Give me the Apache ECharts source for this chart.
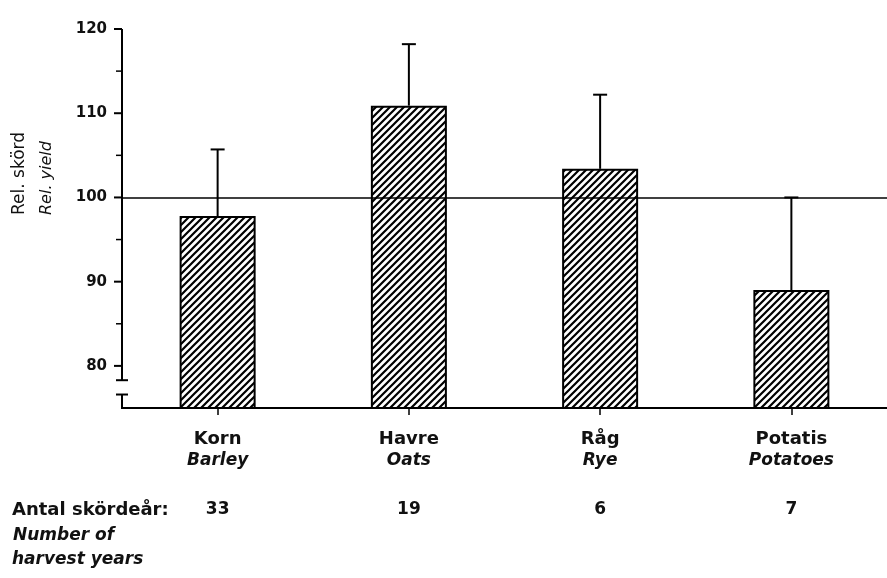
<!DOCTYPE html>
<html>
<head>
<meta charset="utf-8">
<script src="https://cdn.jsdelivr.net/npm/echarts@6/dist/echarts.min.js"></script>
<style>
  html, body { margin: 0; padding: 0; background: #fff; }
  #chart { width: 887px; height: 578px; }
</style>
</head>
<body>
<div id="chart"></div>
<script>
// ---- data ----
const categories = ['Korn', 'Havre', 'Råg', 'Potatis'];
const categoriesEn = ['Barley', 'Oats', 'Rye', 'Potatoes'];
const relYield = [97.8, 110.9, 103.4, 89.0];
const upperError = [105.7, 118.2, 112.2, 100.0];
const harvestYears = [33, 19, 6, 7];
const majorTicks = [80, 90, 100, 110, 120];
const minorTicks = [85, 95, 105, 115];
const axisBreak = [76.6, 78.3];
const referenceLevel = 100;

// ---- hatch pattern ----
function makeHatch() {
  const s = 7;
  const c = document.createElement('canvas');
  c.width = s; c.height = s;
  const g = c.getContext('2d');
  g.fillStyle = '#fff';
  g.fillRect(0, 0, s, s);
  g.strokeStyle = '#000';
  g.lineWidth = 2.2;
  g.beginPath();
  g.moveTo(-1, s + 1); g.lineTo(s + 1, -1);
  g.moveTo(-1, 1); g.lineTo(1, -1);
  g.moveTo(s - 1, s + 1); g.lineTo(s + 1, s - 1);
  g.stroke();
  return c;
}

const FONT = 'DejaVu Sans';
const chart = echarts.init(document.getElementById('chart'), null, { renderer: 'canvas' });

const option = {
  animation: false,
  backgroundColor: '#fff',
  grid: { left: 122, right: 0, top: 29, bottom: 170, containLabel: false },
  xAxis: {
    type: 'category',
    data: categories,
    axisLine: { show: true, lineStyle: { color: '#000', width: 2 } },
    axisTick: { show: true, alignWithLabel: true, length: 7, lineStyle: { color: '#000', width: 1.5 } },
    axisLabel: {
      margin: 21,
      interval: 0,
      formatter: (v, i) => `{a|${v}}\n{b|${categoriesEn[i]}}\n{c|${harvestYears[i]}}`,
      rich: {
        a: { fontFamily: FONT, fontSize: 18, fontWeight: 'bold', color: '#111', lineHeight: 21 },
        b: { fontFamily: FONT, fontSize: 17, fontWeight: 'bold', fontStyle: 'italic', color: '#111', lineHeight: 21 },
        c: { fontFamily: FONT, fontSize: 17, fontWeight: 'bold', color: '#111', lineHeight: 78 }
      }
    }
  },
  yAxis: {
    type: 'value',
    min: 75, max: 120, interval: 5,
    axisLine: { show: false },
    axisTick: { show: false },
    splitLine: { show: false },
    axisLabel: {
      margin: 15,
      fontFamily: FONT, fontSize: 15, fontWeight: 'bold', color: '#111',
      formatter: v => (majorTicks.includes(v) ? String(v) : '')
    }
  },
  graphic: [
    { type: 'text', x: 20, y: 215, rotation: Math.PI / 2,
      style: { text: 'Rel. skörd', font: `17px "${FONT}"`, fill: '#111', textAlign: 'left', textVerticalAlign: 'middle' } },
    { type: 'text', x: 47, y: 215, rotation: Math.PI / 2,
      style: { text: 'Rel. yield', font: `italic 16px "${FONT}"`, fill: '#111', textAlign: 'left', textVerticalAlign: 'middle' } },
    { type: 'text', x: 12, y: 510,
      style: { text: 'Antal skördeår:', font: `bold 18px "${FONT}"`, fill: '#111', textAlign: 'left', textVerticalAlign: 'middle' } },
    { type: 'text', x: 13, y: 536,
      style: { text: 'Number of', font: `italic bold 17px "${FONT}"`, fill: '#111', textAlign: 'left', textVerticalAlign: 'middle' } },
    { type: 'text', x: 12, y: 560,
      style: { text: 'harvest years', font: `italic bold 17px "${FONT}"`, fill: '#111', textAlign: 'left', textVerticalAlign: 'middle' } }
  ],
  series: [
    {
      type: 'bar',
      data: relYield,
      barWidth: 76,
      itemStyle: {
        color: { image: makeHatch(), repeat: 'repeat' },
        borderColor: '#000',
        borderWidth: 2
      },
      markLine: {
        silent: true,
        symbol: 'none',
        label: { show: false },
        lineStyle: { color: '#000', width: 1.5, type: 'solid' },
        data: [{ yAxis: referenceLevel }]
      },
      z: 2
    },
    {
      type: 'custom',
      z: 3,
      data: relYield.map((v, i) => [i, v, upperError[i]]),
      encode: { x: 0, y: [1, 2] },
      renderItem: (params, api) => {
        const b = api.coord([api.value(0), api.value(1)]);
        const t = api.coord([api.value(0), api.value(2)]);
        const style = { stroke: '#000', lineWidth: 2 };
        return {
          type: 'group',
          children: [
            { type: 'line', shape: { x1: b[0], y1: b[1], x2: t[0], y2: t[1] }, style },
            { type: 'line', shape: { x1: t[0] - 7, y1: t[1], x2: t[0] + 7, y2: t[1] }, style }
          ]
        };
      }
    },
    {
      type: 'custom',
      z: 4,
      clip: false,
      data: [[0, axisBreak[0], axisBreak[1]]],
      encode: { x: 0, y: [1, 2] },
      renderItem: (params, api) => {
        const cs = params.coordSys;
        const x = cs.x;
        const yBottom = cs.y + cs.height;
        const yTop = api.coord([0, Math.max(...majorTicks)])[1];
        const yLow = api.coord([0, api.value(1)])[1];
        const yHigh = api.coord([0, api.value(2)])[1];
        const style = { stroke: '#000', lineWidth: 2 };
        const kids = [
          { type: 'line', shape: { x1: x, y1: yTop, x2: x, y2: yHigh }, style },
          { type: 'line', shape: { x1: x - 6, y1: yHigh, x2: x + 6, y2: yHigh }, style },
          { type: 'line', shape: { x1: x - 6, y1: yLow, x2: x + 6, y2: yLow }, style },
          { type: 'line', shape: { x1: x, y1: yLow, x2: x, y2: yBottom + 1 }, style }
        ];
        majorTicks.forEach(v => {
          const y = api.coord([0, v])[1];
          kids.push({ type: 'line', shape: { x1: x - 8, y1: y, x2: x, y2: y }, style });
        });
        minorTicks.forEach(v => {
          const y = api.coord([0, v])[1];
          kids.push({ type: 'line', shape: { x1: x - 6, y1: y, x2: x - 1, y2: y }, style: { stroke: '#000', lineWidth: 1.5 } });
        });
        return { type: 'group', children: kids };
      }
    }
  ]
};
chart.setOption(option);
</script>
</body>
</html>
